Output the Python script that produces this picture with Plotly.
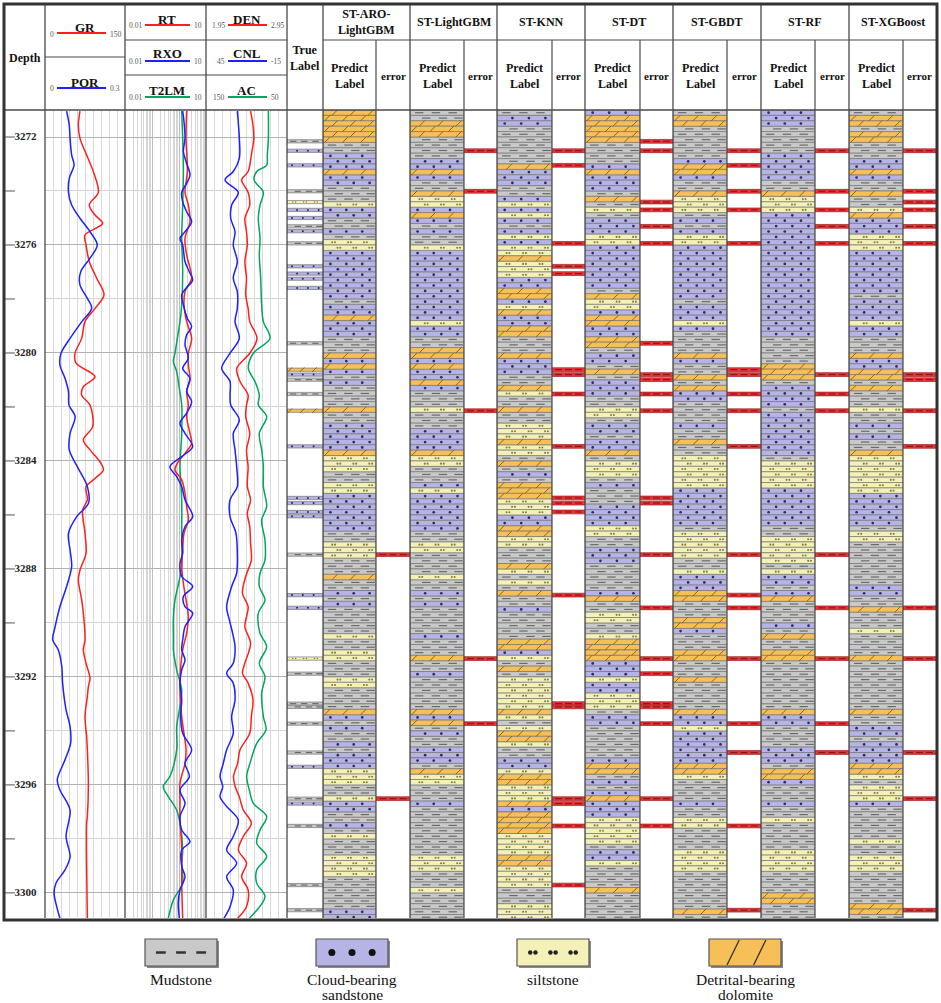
import plotly.graph_objects as go

W, H = 941, 1003
SERIF = "Liberation Serif, Times New Roman, serif"

# ------------------------------------------------------------------ log curves
GR_DEPTH = [3271.04, 3271.56, 3272.05, 3272.67, 3273.28, 3274.05, 3274.52, 3274.89, 3275.20, 3275.63,
            3276.00, 3276.62, 3277.23, 3277.85, 3278.35, 3278.84, 3279.46, 3280.01, 3280.38, 3280.88,
            3281.25, 3281.56, 3281.93, 3282.73, 3283.22, 3283.59, 3284.03, 3284.33, 3284.70, 3284.95,
            3285.44, 3285.82, 3286.68, 3287.42, 3288.04, 3288.41, 3289.15, 3289.89, 3290.63, 3291.00,
            3291.49, 3292.05, 3292.36, 3292.73, 3293.47, 3294.21, 3294.70, 3295.94, 3297.17, 3297.42, 3300.94]
GR = [65.6, 62.5, 65.6, 78.1, 90.6, 100.0, 83.1, 93.8, 108.1, 75.0,
      76.9, 83.1, 96.9, 110.6, 93.8, 75.0, 68.8, 56.3, 58.1, 93.8,
      71.9, 68.8, 84.4, 89.4, 71.9, 84.4, 103.1, 109.4, 90.6, 76.9,
      79.4, 70.6, 75.0, 76.9, 65.6, 62.5, 68.8, 73.1, 75.0, 71.9,
      76.9, 84.4, 81.3, 79.4, 75.0, 78.1, 79.4, 81.3, 79.4, 78.1, 79.4]

POR_DEPTH = [3271.04, 3271.56, 3272.05, 3272.67, 3273.04, 3273.53, 3274.05, 3274.52, 3275.01, 3275.51,
             3276.00, 3276.49, 3276.99, 3277.48, 3277.98, 3278.35, 3278.84, 3279.46, 3280.01, 3280.44,
             3280.94, 3281.43, 3281.93, 3282.36, 3282.98, 3283.59, 3284.21, 3284.95, 3285.57, 3286.06,
             3286.68, 3287.30, 3287.91, 3288.65, 3289.40, 3290.14, 3290.63, 3291.00, 3291.62, 3292.23,
             3293.22, 3293.84, 3294.46, 3295.07, 3295.81, 3296.19, 3296.93, 3297.91, 3298.66, 3299.15,
             3299.64, 3300.01, 3300.51, 3300.94]
POR = [0.081, 0.091, 0.094, 0.100, 0.109, 0.091, 0.088, 0.100, 0.131, 0.169,
       0.196, 0.169, 0.134, 0.131, 0.159, 0.175, 0.138, 0.094, 0.060, 0.056,
       0.075, 0.088, 0.090, 0.113, 0.094, 0.091, 0.121, 0.159, 0.163, 0.119,
       0.088, 0.094, 0.100, 0.081, 0.056, 0.038, 0.029, 0.050, 0.063, 0.066,
       0.079, 0.094, 0.096, 0.075, 0.046, 0.056, 0.094, 0.079, 0.094, 0.075,
       0.041, 0.034, 0.044, 0.056]

RT_DEPTH = [3271.04, 3272.05, 3273.28, 3274.05, 3274.52, 3275.14, 3275.75, 3276.37, 3277.23, 3277.73,
            3278.22, 3278.84, 3279.46, 3280.01, 3280.45, 3280.94, 3281.43, 3281.93, 3282.36, 3282.98,
            3283.35, 3283.72, 3284.03, 3284.33, 3284.70, 3285.20, 3285.69, 3286.19, 3286.68, 3287.30,
            3287.91, 3288.53, 3289.15, 3289.77, 3290.38, 3291.00, 3292.23, 3293.47, 3294.70, 3295.20,
            3295.94, 3296.56, 3297.17, 3298.41, 3299.64, 3300.94]
RT = [1.92, 1.82, 2.04, 1.67, 2.22, 2.55, 1.67, 1.92, 2.94, 1.67,
      1.53, 1.92, 2.94, 2.22, 2.22, 2.55, 1.92, 2.22, 1.92, 2.55,
      2.94, 1.67, 0.94, 0.71, 1.26, 1.67, 1.92, 2.22, 1.53, 1.37,
      1.26, 1.45, 1.82, 2.22, 1.92, 1.37, 1.09, 1.26, 1.82, 1.67,
      1.09, 1.09, 1.09, 1.26, 1.26, 1.37]

RXO_DEPTH = [3271.04, 3271.43, 3272.05, 3272.54, 3272.91, 3273.41, 3273.72, 3274.05, 3274.40, 3274.77,
             3275.14, 3275.51, 3275.75, 3276.00, 3276.62, 3276.99, 3277.30, 3277.60, 3277.85, 3278.22,
             3278.72, 3279.02, 3279.33, 3279.70, 3280.20, 3280.57, 3280.94, 3281.43, 3281.80, 3282.23,
             3282.60, 3282.98, 3283.47, 3283.84, 3284.21, 3284.58, 3284.95, 3285.44, 3286.06, 3286.43,
             3286.93, 3287.42, 3287.79, 3288.28, 3288.65, 3289.02, 3289.40, 3289.64, 3290.14, 3290.63,
             3291.00, 3291.37, 3291.74, 3292.23, 3292.85, 3293.47, 3294.09, 3294.70, 3295.20, 3295.69,
             3296.19, 3296.68, 3297.17, 3297.67, 3298.10, 3298.41, 3299.02, 3299.40, 3299.89, 3300.38,
             3300.94]
RXO = [1.37, 1.53, 1.67, 1.45, 1.82, 2.55, 1.92, 1.26, 1.37, 1.92,
       2.94, 1.67, 1.09, 1.37, 1.67, 2.42, 3.21, 1.82, 1.26, 1.45,
       2.04, 2.94, 1.92, 1.67, 2.22, 1.37, 2.55, 1.92, 2.94, 1.92,
       1.09, 1.67, 3.21, 1.26, 0.46, 0.82, 1.26, 1.67, 3.21, 1.67,
       1.26, 1.37, 1.09, 1.26, 3.21, 1.45, 1.67, 3.21, 1.67, 1.37,
       1.26, 1.67, 1.26, 1.09, 1.26, 1.15, 1.37, 2.94, 1.67, 2.42,
       1.09, 1.67, 1.09, 1.26, 2.55, 1.26, 1.26, 1.67, 1.09, 0.94,
       1.03]

T2LM_DEPTH = [3271.04, 3272.05, 3273.28, 3274.52, 3275.75, 3276.99, 3278.22, 3278.84, 3279.46, 3280.01,
              3280.32, 3280.69, 3281.31, 3281.93, 3282.98, 3284.21, 3285.44, 3286.68, 3287.91, 3288.41,
              3289.15, 3289.77, 3290.63, 3291.00, 3291.74, 3292.48, 3293.22, 3293.84, 3294.70, 3295.69,
              3296.06, 3296.43, 3296.93, 3297.42, 3298.41, 3299.02, 3299.64, 3300.26, 3300.94]
T2LM = [1.26, 1.37, 1.45, 1.37, 1.26, 1.37, 1.26, 1.09, 0.87, 0.71,
        0.62, 0.82, 1.03, 1.26, 1.26, 1.09, 1.26, 1.26, 1.26, 1.03,
        0.71, 0.62, 0.62, 0.62, 0.82, 1.26, 1.03, 0.82, 0.82, 0.46,
        0.26, 0.40, 0.82, 1.09, 1.37, 1.26, 1.37, 0.62, 0.40]

DEN_DEPTH = [3271.04, 3271.56, 3272.05, 3272.67, 3273.28, 3273.59, 3274.05, 3274.52, 3275.01, 3275.51,
             3276.00, 3276.62, 3277.23, 3277.85, 3278.35, 3278.84, 3279.46, 3280.01, 3280.57, 3281.06,
             3281.56, 3281.93, 3282.36, 3282.98, 3283.59, 3284.21, 3284.95, 3285.44, 3285.94, 3286.43,
             3287.05, 3287.67, 3288.28, 3288.90, 3289.40, 3290.14, 3290.75, 3291.49, 3291.86, 3292.23,
             3292.85, 3293.47, 3294.09, 3294.70, 3295.20, 3295.69, 3296.06, 3296.43, 3296.93, 3297.42,
             3297.91, 3298.41, 3298.90, 3299.40, 3299.89, 3300.51, 3300.94]
DEN = [2.50, 2.53, 2.54, 2.51, 2.47, 2.39, 2.47, 2.49, 2.43, 2.45,
       2.46, 2.43, 2.45, 2.44, 2.47, 2.49, 2.58, 2.49, 2.33, 2.37,
       2.47, 2.45, 2.44, 2.49, 2.45, 2.47, 2.46, 2.50, 2.46, 2.49,
       2.50, 2.51, 2.44, 2.40, 2.47, 2.43, 2.50, 2.43, 2.40, 2.47,
       2.53, 2.51, 2.49, 2.37, 2.34, 2.29, 2.31, 2.36, 2.41, 2.51,
       2.41, 2.35, 2.45, 2.39, 2.47, 2.45, 2.34]

CNL_DEPTH = [3271.04, 3272.05, 3272.79, 3273.28, 3273.59, 3274.05, 3274.52, 3275.01, 3275.51, 3276.00,
             3276.62, 3277.23, 3277.73, 3278.35, 3278.84, 3279.46, 3280.01, 3280.57, 3281.06, 3281.56,
             3281.93, 3282.48, 3282.98, 3283.59, 3284.21, 3284.95, 3285.44, 3286.06, 3286.68, 3287.42,
             3288.16, 3288.65, 3289.40, 3289.89, 3290.38, 3290.88, 3291.49, 3291.86, 3292.23, 3292.85,
             3293.47, 3294.09, 3294.70, 3295.20, 3295.69, 3296.06, 3296.43, 3296.80, 3297.30, 3297.91,
             3298.41, 3298.90, 3299.40, 3299.89, 3300.51, 3300.94]
CNL = [21.8, 20.3, 20.3, 24.8, 30.9, 21.1, 26.0, 26.7, 23.5, 24.8,
       21.8, 24.8, 21.8, 21.8, 23.5, 20.3, 27.2, 33.4, 27.2, 27.2,
       26.7, 20.3, 24.8, 23.5, 22.3, 21.8, 27.2, 27.2, 22.8, 21.8,
       22.3, 26.0, 29.7, 27.7, 25.3, 23.5, 24.8, 29.7, 24.8, 23.5,
       26.0, 24.8, 29.7, 32.2, 34.6, 32.6, 34.6, 29.7, 21.1, 24.8,
       29.7, 22.3, 29.7, 24.8, 27.2, 31.7]

AC_DEPTH = [3271.04, 3272.05, 3272.67, 3273.04, 3273.28, 3273.59, 3274.05, 3274.52, 3275.01, 3275.75,
            3276.37, 3277.23, 3278.22, 3278.84, 3279.46, 3280.01, 3280.57, 3281.06, 3281.56, 3281.93,
            3282.36, 3282.98, 3283.59, 3284.21, 3284.95, 3285.69, 3286.19, 3286.93, 3287.67, 3288.16,
            3288.65, 3289.15, 3289.64, 3290.38, 3290.88, 3291.49, 3291.99, 3292.60, 3293.47, 3293.96,
            3294.46, 3295.20, 3295.69, 3296.19, 3296.68, 3297.17, 3297.67, 3298.16, 3298.65, 3299.15,
            3299.64, 3300.14, 3300.94]
AC = [73.0, 73.0, 74.3, 75.1, 87.4, 90.7, 79.2, 83.3, 85.4, 83.3,
      84.2, 82.5, 81.3, 79.2, 71.0, 91.6, 97.7, 89.5, 84.2, 85.4,
      75.1, 84.2, 81.3, 79.2, 79.2, 75.1, 81.3, 77.2, 77.2, 83.3,
      84.2, 77.2, 85.4, 83.3, 75.1, 84.2, 77.2, 81.3, 79.2, 75.9,
      87.4, 95.7, 99.8, 96.5, 91.6, 75.1, 83.3, 87.4, 75.1, 87.4,
      87.4, 77.2, 96.5]

# ------------------------------------------------------------------ depth ticks
DEPTH_TICKS = [3272, 3274, 3276, 3278, 3280, 3282, 3284, 3286, 3288, 3290, 3292, 3294, 3296, 3298, 3300]
DEPTH_LABELS = [3272, 3276, 3280, 3284, 3288, 3292, 3296, 3300]

# ------------------------------------------------------------------ lithology
# M = Mudstone, S = Cloud-bearing sandstone, L = siltstone, D = Detrital-bearing dolomite
LITH_CODES = ["M", "S", "L", "D"]
LITH_NAMES = [["Mudstone"], ["Cloud-bearing", "sandstone"], ["siltstone"], ["Detrital-bearing", "dolomite"]]

PRED_TOP = 3271.0   # top of first predicted sample (m)
PRED_STEP = 0.2     # sample interval (m)

MODEL_NAMES = ["ST-ARO-<br>LightGBM", "ST-LightGBM", "ST-KNN", "ST-DT", "ST-GBDT", "ST-RF", "ST-XGBoost"]

PRED_ARO = ("DDDDDDMMSS SDSSMMMLSS MMSMLLSSSS SSSSSMSSDS SSMMMDSDSM SMMMMDMMSS SSSDLLLMML LSSSSSSSMM "
            "LLLMMMDMMS MSMMMMMLMM LLMMMLLMMM MDSMSMMSMS SSLLLMMLSS MMSMLMMMLL LLMMMMMMSS")
PRED_LGB = ("MMDDDMMMMS SDSMMDLLSD SMSMMLSSSS SSSSSSSSSL SSMMDDSDSS DSMMMLMMMS SSSDLLMMMS LSSSSSSSMM "
            "LLMMMMLMMS MSMMMMMSMM MDMMSMMMMM MDSDMSMMSS SMDLLMMMSM MMMMMMMMLL LMMMLMMMMM")
PRED_KNN = ("MSSMMMMMMM DSSSMMSLSL SMSLSLLDLL LSSDDSLDSS DDMMMDSSSM MDLMMDMMLL LDLLMDMSMD DDLLLSSDDL "
            "LMMMDLMLMD MMSMMMMMDD SLMDMLLLLL LDLMLDDLMM SSLDDLLLDS DDDDLLLLDD LLLLMMMLLL")
PRED_DT = ("SDDDDDMMMM SDSSSMDMLM SSSLLSSSSS SSSMDLLSDD SSDDMSSMDM SSSMMLLMSS MSSDMLLLMS MMMSSSSLLM "
           "MSSSMMMMMS DMMLLMMLDD DDSSSLSSLL LMSSMMMMMM SDDMSMSDSS SLLLLLMSSL MMMMDMMMMM")
PRED_GBDT = ("MDDMMMMMMS DDSMMDLLLM SMSLLSSSSS SSSSSMSSSL SMMMMDSMMD MDSSMMMMSM MDMMLLLLLL SSSSSSSMLL "
             "LLLMMLSSSD DMMMDDSMMM DDMMMDMMMM MDSSLSSSSS SDDLMMMMSM MLLMMMMLLL LMMMMMMMDM")
PRED_RF = ("SSSMMMMMSS SSSMMDLLLS SSSSSSSSSS SSSSSSSSSS SSMMMMMDDD MSSSSMSSSS SSSSMLLLLL SSSSSSSMML "
           "LLLLMLSSMS DMMMMSMDMM DDMMMMMMMM MDSSMMMMSS SMDDSMMMSM MLMMMMMLLL LMMMMDDMMM")
PRED_XGB = ("MDDMDDMMMS SDSMMDMMLD SSSLLLSSSS SSSSMSSSSL SSMMMDSSDD MDMMMLMMSM SMMDLLLLLL LSSSSSSMLL "
            "MMMMMMMMSS MMDMMMLMMM MDMMMMMMMM MDMMSSMSSS SDDLMLLLSM MMMMMLMMLL LMMMMMMDDM")

TRUE_DEPTH = [3272.16, 3272.51, 3273.05, 3274.01, 3274.41, 3274.70, 3275.00, 3275.31, 3275.49, 3275.94,
              3276.79, 3277.06, 3277.25, 3277.59, 3279.64, 3280.62, 3280.80, 3280.99, 3281.52, 3282.14,
              3283.46, 3285.37, 3285.56, 3285.89, 3286.05, 3287.47, 3288.97, 3289.44, 3291.32, 3291.88,
              3292.99, 3293.11, 3293.73, 3294.80, 3295.33, 3296.51, 3296.69, 3297.52, 3299.71, 3300.64]
TRUE_LITH = ["M", "S", "S", "M", "L", "S", "S", "M", "S", "M",
             "S", "S", "S", "S", "M", "D", "S", "M", "M", "D",
             "S", "S", "S", "S", "S", "M", "S", "S", "L", "M",
             "M", "M", "M", "M", "S", "M", "S", "M", "M", "M"]

ERR_ARO = [3287.47, 3296.51]
ERR_LGB = [3272.51, 3274.01, 3282.14, 3291.32, 3293.73]
ERR_KNN = [3272.51, 3273.05, 3275.94, 3276.79, 3277.06, 3280.62, 3280.80, 3281.52, 3283.46, 3285.37,
           3285.56, 3285.89, 3288.97, 3292.99, 3293.11, 3296.51, 3296.69, 3297.52, 3299.71]
ERR_DT = [3272.16, 3272.51, 3274.41, 3274.70, 3275.31, 3275.94, 3279.64, 3280.80, 3280.99, 3281.52,
          3282.14, 3285.37, 3285.56, 3287.47, 3289.44, 3291.32, 3291.88, 3292.99, 3293.11, 3293.73,
          3296.51, 3297.52]
ERR_GBDT = [3272.51, 3273.05, 3274.01, 3274.70, 3275.94, 3280.62, 3280.80, 3281.52, 3282.14, 3283.46,
            3287.47, 3288.97, 3289.44, 3291.32, 3293.73, 3294.80, 3297.52, 3300.64]
ERR_RF = [3272.51, 3274.01, 3274.70, 3275.31, 3275.94, 3280.80, 3281.52, 3282.14, 3287.47, 3289.44,
          3291.32, 3293.73, 3294.80]
ERR_XGB = [3272.51, 3274.01, 3274.41, 3274.70, 3275.31, 3275.94, 3280.80, 3280.99, 3282.14, 3283.46,
           3289.44, 3291.32, 3294.80, 3296.51, 3300.64]

PREDS = [PRED_ARO, PRED_LGB, PRED_KNN, PRED_DT, PRED_GBDT, PRED_RF, PRED_XGB]
ERRS = [ERR_ARO, ERR_LGB, ERR_KNN, ERR_DT, ERR_GBDT, ERR_RF, ERR_XGB]

# ------------------------------------------------------------------ geometry / style
TOP_PX, BOT_PX = 110, 918
DEPTH_MIN, DEPTH_MAX = 3271.0, 3300.93
COL_X = [323, 410, 497, 585, 673, 761, 849, 936]
SPLIT_X = [376, 464, 552, 640, 727, 815, 903]
TRACK_X = [45, 125, 206, 287]
TRUE_X = (287, 323)

LITH_COLORS = {"M": "#C9C9C9", "S": "#B6B3E6", "L": "#F4F1B8", "D": "#F6BF57"}
EDGE = "#757575"
RED, BLUE, GREEN = "#FF1F1F", "#1F1FFF", "#00A560"
LINE = "#4a4a4a"

PAT_POS = {"M": ((0.17, 0.48, 0.79), (0.30, 0.61, 0.90)),
           "S": ((0.14, 0.44, 0.74), (0.28, 0.58, 0.88)),
           "L": ((0.20, 0.50, 0.80), (0.30, 0.60, 0.90)),
           "D": ((0.22, 0.56, 0.90), (0.08, 0.42, 0.76))}


def px(x):
    return x / W


def py(y):
    return 1 - y / H


def marker_style(code, s):
    if code == "M":
        return dict(symbol="line-ew", size=6 * s, line=dict(width=1.2, color="#6a6a6a"))
    if code == "S":
        return dict(symbol="circle", size=2.7 * s, color="#2d2d5a", line=dict(width=0))
    if code == "L":
        return dict(symbol="circle", size=2.1 * s, color="#85803c", line=dict(width=0))
    return dict(symbol="line-ne", size=6 * s, line=dict(width=1.0, color="#8c6414"))


fig = go.Figure()


def add_lith(tops, codes, thick, xa, width_px, s=1.0):
    for code in LITH_CODES:
        idx = [k for k, c in enumerate(codes) if c == code]
        if not idx:
            continue
        fig.add_trace(go.Bar(x=[0.5] * len(idx), y=[thick] * len(idx), base=[tops[k] for k in idx],
                             width=1, marker=dict(color=LITH_COLORS[code], line=dict(color=EDGE, width=0.7)),
                             xaxis=xa, yaxis="y2", hoverinfo="skip", showlegend=False))
        xs, ys = [], []
        dx = 1.4 / width_px
        for k in idx:
            yc = tops[k] + thick / 2
            for p in PAT_POS[code][k % 2]:
                if code == "L":
                    xs += [p - dx, p + dx]
                    ys += [yc, yc]
                else:
                    xs.append(p)
                    ys.append(yc)
        fig.add_trace(go.Scatter(x=xs, y=ys, mode="markers", marker=marker_style(code, s),
                                 xaxis=xa, yaxis="y2", hoverinfo="skip", showlegend=False))


# ---- curves
curve_specs = [
    (GR, GR_DEPTH, "x", RED), (POR, POR_DEPTH, "x2", BLUE),
    (T2LM, T2LM_DEPTH, "x3", GREEN), (RT, RT_DEPTH, "x3", RED), (RXO, RXO_DEPTH, "x3", BLUE),
    (AC, AC_DEPTH, "x6", GREEN), (DEN, DEN_DEPTH, "x4", RED), (CNL, CNL_DEPTH, "x5", BLUE),
]
for xv, yv, xa, col in curve_specs:
    fig.add_trace(go.Scatter(x=xv, y=yv, mode="lines", xaxis=xa, yaxis="y",
                             line=dict(color=col, width=1.5, shape="spline", smoothing=0.9),
                             hoverinfo="skip", showlegend=False))

# ---- depth column
fig.add_trace(go.Scatter(x=[5] * len(DEPTH_TICKS), y=DEPTH_TICKS, mode="markers", xaxis="x7", yaxis="y2",
                         marker=dict(symbol="line-ew", size=7, line=dict(width=1, color="#555")),
                         hoverinfo="skip", showlegend=False))
fig.add_trace(go.Scatter(x=[20.5] * len(DEPTH_LABELS), y=DEPTH_LABELS, mode="text", xaxis="x7", yaxis="y2",
                         text=["<b>%d</b>" % d for d in DEPTH_LABELS], textposition="middle center",
                         textfont=dict(family=SERIF, size=11, color="#222"), hoverinfo="skip", showlegend=False))

# ---- true label
TRUE_THICK = 0.12
add_lith([d - TRUE_THICK / 2 for d in TRUE_DEPTH], TRUE_LITH, TRUE_THICK, "x8", TRUE_X[1] - TRUE_X[0], s=0.75)

# ---- predictions and errors
for m, (pred, errs) in enumerate(zip(PREDS, ERRS)):
    codes = pred.replace(" ", "")
    tops = [PRED_TOP + PRED_STEP * k for k in range(len(codes))]
    add_lith(tops, codes, PRED_STEP, "x%d" % (9 + m), SPLIT_X[m] - COL_X[m])
    et = 0.14
    xa = "x%d" % (16 + m)
    fig.add_trace(go.Bar(x=[0.5] * len(errs), y=[et] * len(errs), base=[d - et / 2 for d in errs], width=1,
                         marker=dict(color="#E8363C", line=dict(color="#a31a1a", width=0.7)),
                         xaxis=xa, yaxis="y2", hoverinfo="skip", showlegend=False))
    fig.add_trace(go.Scatter(x=[p for d in errs for p in (0.2, 0.5, 0.8)],
                             y=[d for d in errs for _ in range(3)], mode="markers", xaxis=xa, yaxis="y2",
                             marker=dict(symbol="line-ew", size=5, line=dict(width=1.2, color="#8e1515")),
                             hoverinfo="skip", showlegend=False))

# ---- legend (boxes below traces, patterns as markers on a pixel overlay axis)
LEG_CX = [181, 352, 553, 745]
LEG_W, LEG_Y0, LEG_Y1 = 72, 939, 966
shapes = []
annotations = []
for i, code in enumerate(LITH_CODES):
    x0, x1 = LEG_CX[i] - LEG_W / 2, LEG_CX[i] + LEG_W / 2
    shapes.append(dict(type="rect", xref="paper", yref="paper", x0=px(x0 + 2), x1=px(x1 + 2),
                       y0=py(LEG_Y1 + 2), y1=py(LEG_Y0 + 2), fillcolor="#8a8a8a", line=dict(width=0), layer="below"))
    shapes.append(dict(type="rect", xref="paper", yref="paper", x0=px(x0), x1=px(x1),
                       y0=py(LEG_Y1), y1=py(LEG_Y0), fillcolor=LITH_COLORS[code],
                       line=dict(color="#555", width=1.2), layer="below"))
    yc = (LEG_Y0 + LEG_Y1) / 2
    fr = (0.22, 0.5, 0.78)
    if code == "D":
        for f in (0.25, 0.62):
            shapes.append(dict(type="line", xref="paper", yref="paper",
                               x0=px(x0 + f * LEG_W), y0=py(LEG_Y1 - 1), x1=px(x0 + (f + 0.17) * LEG_W),
                               y1=py(LEG_Y0 + 1), line=dict(color="#333", width=1.3), layer="above"))
    else:
        if code == "L":
            xs = [x0 + f * LEG_W + o for f in fr for o in (-2.6, 2.6)]
            mk = dict(symbol="circle", size=4.5, color="#222", line=dict(width=0))
        elif code == "S":
            xs = [x0 + f * LEG_W for f in fr]
            mk = dict(symbol="circle", size=7, color="#111", line=dict(width=0))
        else:
            xs = [x0 + f * LEG_W for f in fr]
            mk = dict(symbol="line-ew", size=7, line=dict(width=2.5, color="#333"))
        fig.add_trace(go.Scatter(x=xs, y=[yc] * len(xs), mode="markers", marker=mk, xaxis="x23", yaxis="y3",
                                 hoverinfo="skip", showlegend=False))
    for j, ln in enumerate(LITH_NAMES[i]):
        annotations.append(dict(x=px(LEG_CX[i]), y=py(979 + 15 * j), xref="paper", yref="paper", text=ln,
                                showarrow=False, font=dict(family=SERIF, size=15.5, color="#111"),
                                xanchor="center", yanchor="middle"))


# ---- table lines
def hline(y, xa, xb, w=1.2, c=LINE):
    shapes.append(dict(type="line", xref="paper", yref="paper", x0=px(xa), x1=px(xb), y0=py(y), y1=py(y),
                       line=dict(color=c, width=w), layer="above"))


def vline(x, ya, yb, w=1.2, c=LINE):
    shapes.append(dict(type="line", xref="paper", yref="paper", x0=px(x), x1=px(x), y0=py(ya), y1=py(yb),
                       line=dict(color=c, width=w), layer="above"))


for x in TRACK_X + [TRUE_X[1]] + COL_X[1:-1]:
    vline(x, 5, BOT_PX, 1.3)
for x in SPLIT_X:
    vline(x, 40, BOT_PX, 1.2)
hline(TOP_PX, 5, 936, 1.4)
hline(57, TRACK_X[0], TRACK_X[1])
hline(40, TRACK_X[1], TRACK_X[3])
hline(75, TRACK_X[1], TRACK_X[3])
hline(40, COL_X[0], COL_X[-1])
shapes.append(dict(type="rect", xref="paper", yref="paper", x0=px(4), x1=px(937), y0=py(920), y1=py(4),
                   line=dict(color="#333", width=3), layer="above"))


# ---- header text
def ann(x, y, text, size=12, color="#111", bold=True, anchor="center"):
    annotations.append(dict(x=px(x), y=py(y), xref="paper", yref="paper",
                            text=("<b>%s</b>" % text) if bold else text, showarrow=False,
                            font=dict(family=SERIF, size=size, color=color), xanchor=anchor, yanchor="middle"))


ann(25, 58, "Depth", 12)
ann(305, 58, "True<br>Label", 12)

header_curves = [
    # (title x, title y, line y, line x0, line x1, title, colour, left label, right label)
    (85, 28, 33, 57, 106, "GR", RED, "0", "150"),
    (85, 82, 88, 57, 106, "POR", BLUE, "0", "0.3"),
    (167, 19, 25, 145, 190, "RT", RED, "0.01", "10"),
    (167, 54, 61, 145, 190, "RXO", BLUE, "0.01", "10"),
    (167, 90, 97, 145, 190, "T2LM", GREEN, "0.01", "10"),
    (247, 19, 25, 228, 267, "DEN", RED, "1.95", "2.95"),
    (247, 54, 61, 228, 267, "CNL", BLUE, "45", "-15"),
    (247, 90, 97, 228, 267, "AC", GREEN, "150", "50"),
]
for tx, ty, ly, lx0, lx1, title, col, lo, hi in header_curves:
    ann(tx, ty, title, 13)
    hline(ly, lx0, lx1, 1.8, col)
    ann(lx0 - 1.5, ly + 1, lo, 7.5, "#555", False, "right")
    ann(lx1 + 1.5, ly + 1, hi, 7.5, "#555", False, "left")

for m, name in enumerate(MODEL_NAMES):
    ann((COL_X[m] + COL_X[m + 1]) / 2, 22, name, 12)
    ann((COL_X[m] + SPLIT_X[m]) / 2, 76, "Predict<br>Label", 12)
    ann((SPLIT_X[m] + COL_X[m + 1]) / 2, 76, "error", 11)

# ------------------------------------------------------------------ axes
YDOM = [1 - BOT_PX / H, 1 - TOP_PX / H]


def xdom(a, b):
    return [a / W, b / W]


def hx(dom, rng, **kw):
    d = dict(domain=dom, range=rng, showgrid=False, zeroline=False, showticklabels=False, ticks="",
             showline=False, fixedrange=True)
    d.update(kw)
    return d


layout = dict(
    width=W, height=H, margin=dict(l=0, r=0, t=0, b=0),
    paper_bgcolor="white", plot_bgcolor="rgba(0,0,0,0)",
    barmode="overlay", showlegend=False, shapes=shapes, annotations=annotations,
    yaxis=dict(domain=YDOM, range=[DEPTH_MAX, DEPTH_MIN], showgrid=True, gridcolor="#b2b2b2", gridwidth=1,
               tick0=3272, dtick=4, minor=dict(tick0=3272, dtick=2, showgrid=True, gridcolor="#d4d4d4"),
               showticklabels=False, ticks="", zeroline=False, showline=False, fixedrange=True),
    yaxis2=dict(domain=YDOM, range=[DEPTH_MAX, DEPTH_MIN], visible=False, fixedrange=True),
    yaxis3=dict(domain=[0, 1], range=[H, 0], visible=False, fixedrange=True),
    xaxis=hx(xdom(45, 125), [0, 150], showgrid=True, tick0=0, dtick=15, gridcolor="#dadada", anchor="y"),
    xaxis2=hx(xdom(45, 125), [0, 0.3], overlaying="x", anchor="y"),
    xaxis3=hx(xdom(125, 206), [-2, 1], type="log", showgrid=True, dtick=1, gridcolor="#bdbdbd",
              minor=dict(dtick="D1", showgrid=True, gridcolor="#d6d6d6"), anchor="y"),
    xaxis4=hx(xdom(206, 287), [1.95, 2.95], showgrid=True, tick0=1.95, dtick=0.1, gridcolor="#dadada", anchor="y"),
    xaxis5=hx(xdom(206, 287), [45, -15], overlaying="x4", anchor="y"),
    xaxis6=hx(xdom(206, 287), [150, 50], overlaying="x4", anchor="y"),
    xaxis7=hx(xdom(5, 45), [0, 40], anchor="y2"),
    xaxis8=hx(xdom(*TRUE_X), [0, 1], anchor="y2"),
    xaxis23=hx([0, 1], [0, W], anchor="y3"),
)
for m in range(7):
    layout["xaxis%d" % (9 + m)] = hx(xdom(COL_X[m], SPLIT_X[m]), [0, 1], anchor="y2")
    layout["xaxis%d" % (16 + m)] = hx(xdom(SPLIT_X[m], COL_X[m + 1]), [0, 1], anchor="y2")

fig.update_layout(**layout)
fig.write_html("out.html", config={"displayModeBar": False},
               post_script="document.body.style.margin='0px';")
